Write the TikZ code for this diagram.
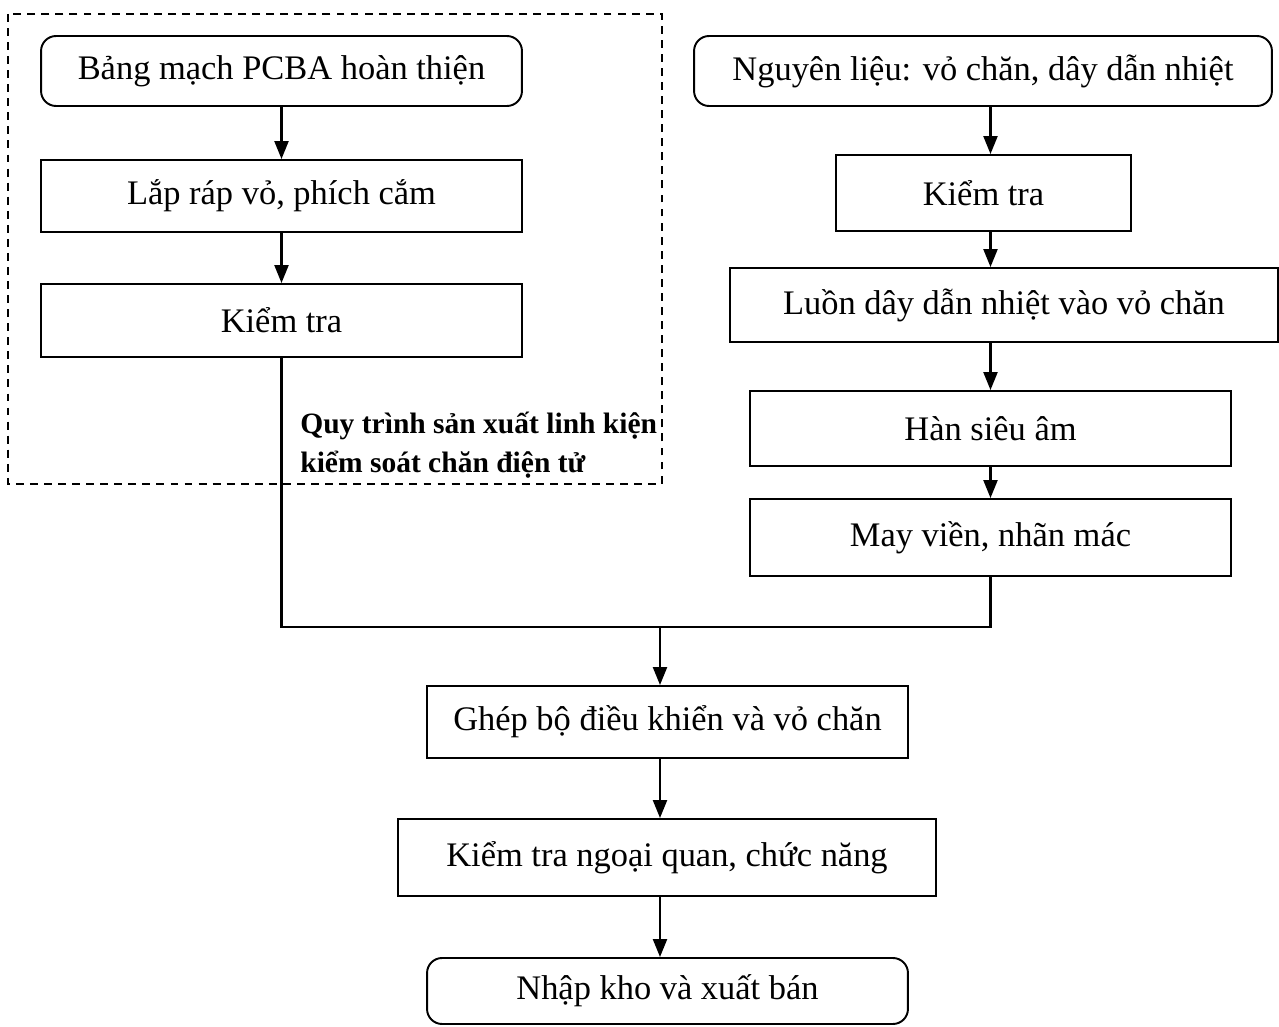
\documentclass[tikz,border=0pt]{standalone}
\usepackage{fontspec}
\setmainfont{Liberation Serif}
\usetikzlibrary{arrows.meta}

\tikzset{
  stepbox/.style={draw, line width=1.1pt, inner sep=0pt,
    font=\fontsize{19.6}{23}\selectfont},
  endbox/.style={stepbox, rounded corners=0.3cm},
  flow/.style={line width=1.3pt, -{Triangle[length=0.36cm, width=0.28cm]}},
  mergeline/.style={line width=1.2pt}
}

\begin{document}
\begin{tikzpicture}[x=0.02cm, y=-0.02cm]
        \useasboundingbox (0,0) rectangle (1279,1027);

        % khung linh kien dieu khien
        \draw[line width=0.9pt, dash pattern=on 4.5pt off 3.5pt] (8,14) rectangle (662,484);

        \node[endbox, minimum width=9.62cm, minimum height=1.4cm] (pcba) at (281.5,71) {Bảng mạch PCBA hoàn thiện};
        \node[stepbox, minimum width=9.62cm, minimum height=1.44cm] (lapvo) at (281.5,196) {Lắp ráp vỏ, phích cắm};
        \node[stepbox, minimum width=9.62cm, minimum height=1.46cm] (ktL) at (281.5,320.5) {Kiểm tra};

        \node[anchor=north west, align=left, inner sep=0pt,
              font=\fontsize{16.8}{22}\selectfont\bfseries] (nhan) at (300,412)
              {Quy trình sản xuất linh kiện\\kiểm soát chăn điện tử};

        % nhanh vo chan
        \node[endbox, minimum width=11.56cm, minimum height=1.4cm] (nguyenlieu) at (983,71) {Nguyên liệu: vỏ chăn, dây dẫn nhiệt};
        \node[stepbox, minimum width=5.9cm, minimum height=1.52cm] (ktR) at (983.5,193) {Kiểm tra};
        \node[stepbox, minimum width=10.96cm, minimum height=1.48cm] (luon) at (1004,305) {Luồn dây dẫn nhiệt vào vỏ chăn};
        \node[stepbox, minimum width=9.62cm, minimum height=1.5cm] (han) at (990.5,428.5) {Hàn siêu âm};
        \node[stepbox, minimum width=9.62cm, minimum height=1.54cm] (may) at (990.5,537.5) {May viền, nhãn mác};

        % phan chung
        \node[stepbox, minimum width=9.62cm, minimum height=1.44cm] (ghep) at (667.5,722) {Ghép bộ điều khiển và vỏ chăn};
        \node[stepbox, minimum width=10.76cm, minimum height=1.54cm] (ktngoai) at (667,857.5) {Kiểm tra ngoại quan, chức năng};
        \node[endbox, minimum width=9.62cm, minimum height=1.32cm] (nhapkho) at (667.5,991) {Nhập kho và xuất bán};

        \coordinate (gop) at (660,627);

        \draw[flow] (pcba) -- (lapvo);
        \draw[flow] (lapvo) -- (ktL);

        \draw[flow] (han.north |- nguyenlieu.south) -- (han.north |- ktR.north);
        \draw[flow] (han.north |- ktR.south) -- (han.north |- luon.north);
        \draw[flow] (han.north |- luon.south) -- (han.north);
        \draw[flow] (han) -- (may);

        \draw[mergeline] (ktL.south) |- (gop) -| (may.south);
        \draw[flow] (gop) -- (gop |- ghep.north);
        \draw[flow] (gop |- ghep.south) -- (gop |- ktngoai.north);
        \draw[flow] (gop |- ktngoai.south) -- (gop |- nhapkho.north);

    \end{tikzpicture}
\end{document}
